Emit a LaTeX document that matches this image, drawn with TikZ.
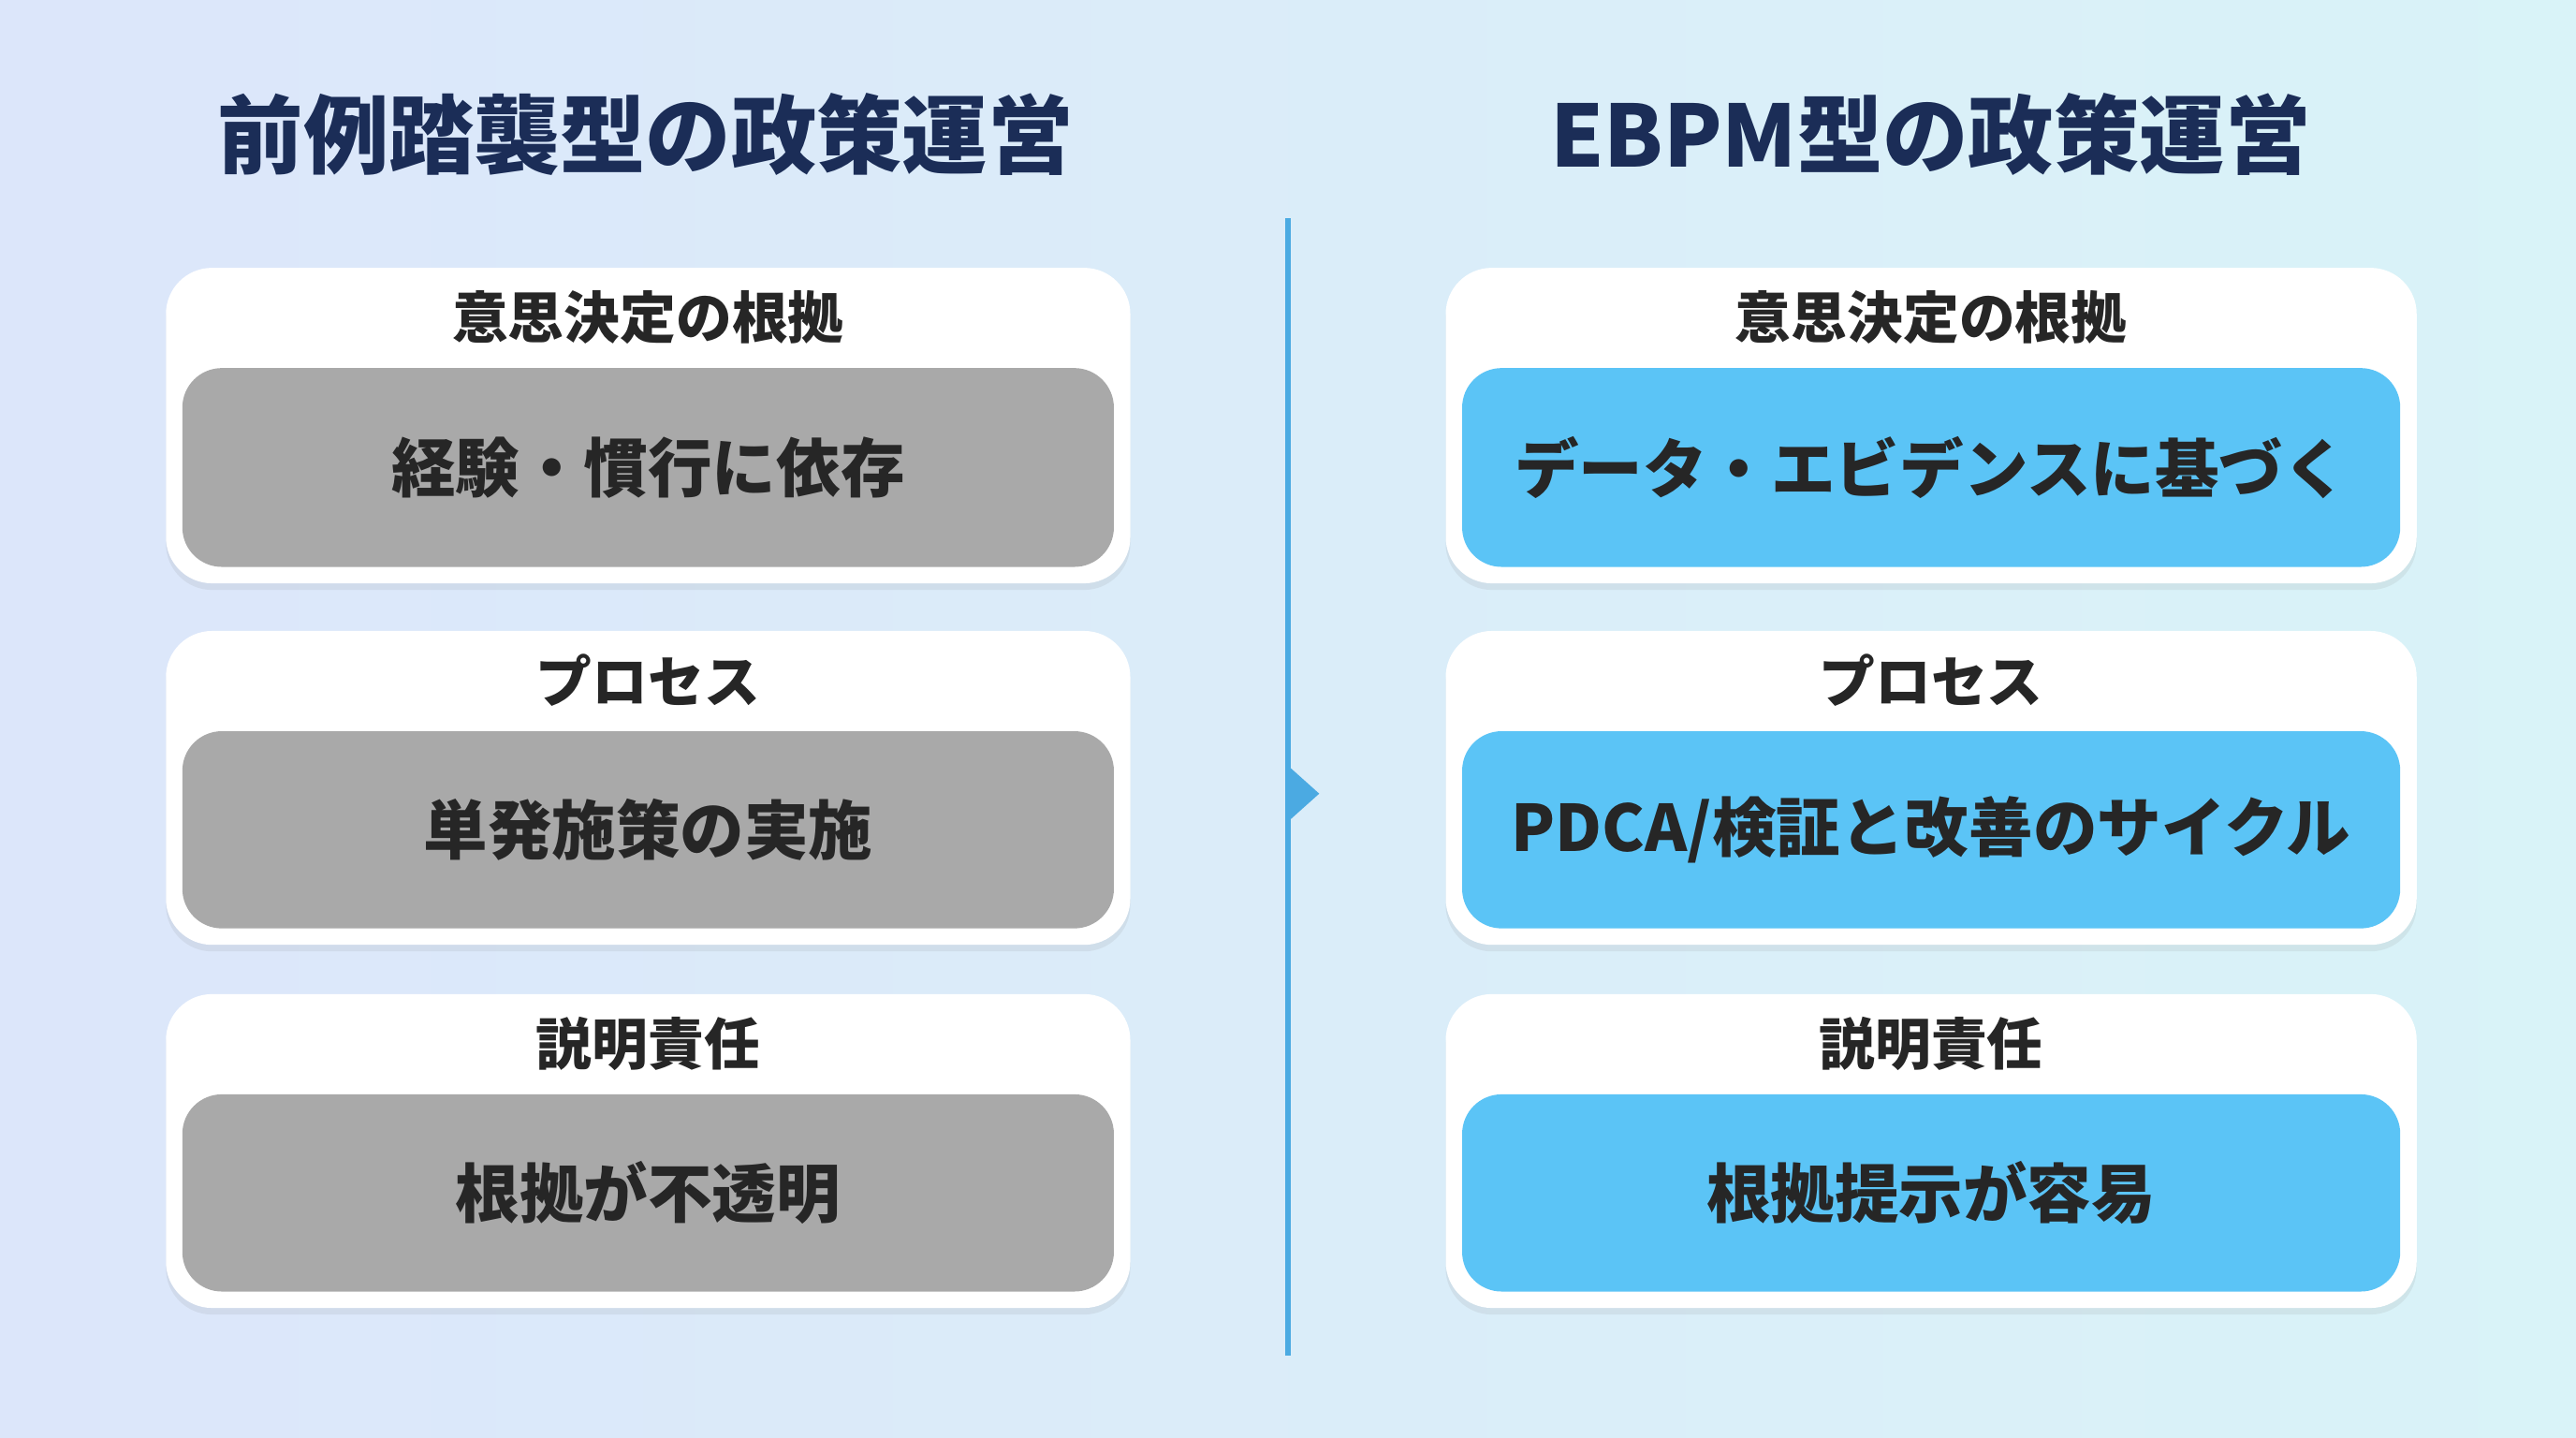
\documentclass[tikz,border=0pt]{standalone}
\usepackage{fontspec}
\setmainfont{Noto Sans CJK JP}
\usetikzlibrary{shadows}
\definecolor{navy}{HTML}{1B2D57}
\definecolor{bgleft}{HTML}{DCE6FA}
\definecolor{bgright}{HTML}{D9F3F8}
\definecolor{oldgray}{HTML}{A9A9A9}
\definecolor{newblue}{HTML}{5BC4F6}
\definecolor{divider}{HTML}{4BAAE2}
\tikzset{
  card/.style={fill=white, rounded corners=14pt, drop shadow={opacity=0.12, shadow xshift=0pt, shadow yshift=-2pt}},
  inner/.style={rounded corners=12pt},
  headtxt/.style={font=\bfseries\fontsize{17}{20}\selectfont, text=black!85},
  bodytxt/.style={font=\bfseries\fontsize{19.5}{23}\selectfont, text=black!85},
  titletxt/.style={font=\bfseries\fontsize{26}{30}\selectfont, text=navy}
}
\begin{document}
\begin{tikzpicture}[x=0.01755cm, y=-0.01755cm]

    \shade[left color=bgleft, right color=bgright] (0,0) rectangle (1568,875);
    \useasboundingbox (0,0) rectangle (1568,875);

    \node[titletxt] (titleold) at (393,82) {前例踏襲型の政策運営};
    \node[titletxt] (titlenew) at (1175,82) {EBPM型の政策運営};

    \draw[divider, line width=1.5pt] (784,133) -- (784,825);
    \fill[divider] (784,466) -- (803,483) -- (784,500) -- cycle;

    % left column
    \fill[card] (101,163) rectangle (688,355);
    \fill[card] (101,384) rectangle (688,575);
    \fill[card] (101,605) rectangle (688,796);
    \fill[oldgray, inner] (111,224) rectangle (678,345);
    \fill[oldgray, inner] (111,445) rectangle (678,565);
    \fill[oldgray, inner] (111,666) rectangle (678,786);
    \node[headtxt] (oldhead1) at (394.5,193) {意思決定の根拠};
    \node[headtxt] (oldhead2) at (394.5,414) {プロセス};
    \node[headtxt] (oldhead3) at (394.5,635) {説明責任};
    \node[bodytxt] (oldbody1) at (394.5,284.5) {経験・慣行に依存};
    \node[bodytxt] (oldbody2) at (394.5,505) {単発施策の実施};
    \node[bodytxt] (oldbody3) at (394.5,726) {根拠が不透明};

    % right column
    \fill[card] (880,163) rectangle (1471,355);
    \fill[card] (880,384) rectangle (1471,575);
    \fill[card] (880,605) rectangle (1471,796);
    \fill[newblue, inner] (890,224) rectangle (1461,345);
    \fill[newblue, inner] (890,445) rectangle (1461,565);
    \fill[newblue, inner] (890,666) rectangle (1461,786);
    \node[headtxt] (newhead1) at (1175.5,193) {意思決定の根拠};
    \node[headtxt] (newhead2) at (1175.5,414) {プロセス};
    \node[headtxt] (newhead3) at (1175.5,635) {説明責任};
    \node[bodytxt] (newbody1) at (1175.5,284.5) {データ・エビデンスに基づく};
    \node[bodytxt] (newbody2) at (1175.5,505) {PDCA/検証と改善のサイクル};
    \node[bodytxt] (newbody3) at (1175.5,726) {根拠提示が容易};

\end{tikzpicture}
\end{document}
